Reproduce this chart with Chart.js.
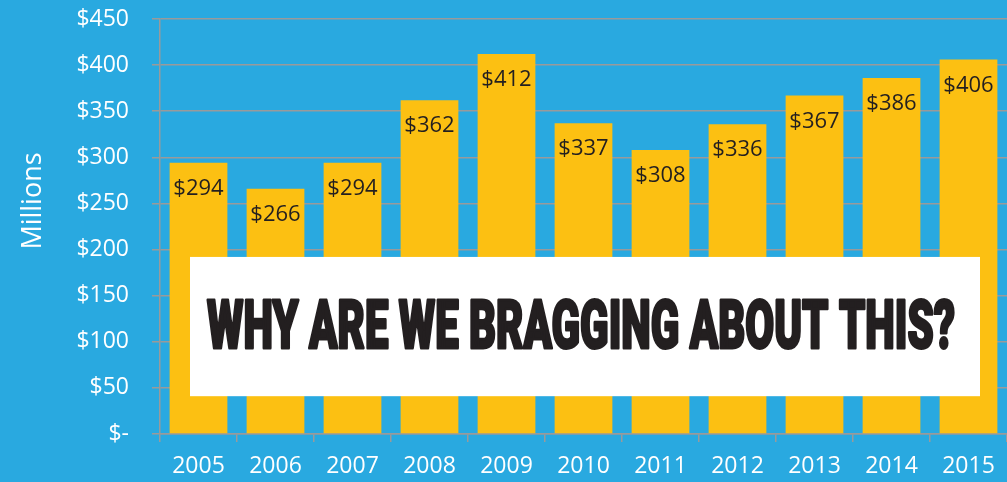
<!DOCTYPE html>
<html>
<head>
<meta charset="utf-8">
<script src="https://cdn.jsdelivr.net/npm/chart.js@4.4.0/dist/chart.umd.min.js"></script>
<style>
    html, body { margin: 0; padding: 0; background: #29a9e0; }
    #wrap { width: 1007px; height: 482px; position: relative; }
</style>
</head>
<body>
<div id="wrap"><canvas id="revenueChart" width="1007" height="482"></canvas></div>
<script>
// Values (millions of dollars)
const years = ['2005', '2006', '2007', '2008', '2009', '2010', '2011', '2012', '2013', '2014', '2015'];
const revenue = [294, 266, 294, 362, 412, 337, 308, 336, 367, 386, 406];
const yMax = 450;
const yStep = 50;
const axisTitle = 'Millions';
const banner = 'WHY ARE WE BRAGGING ABOUT THIS?';

const BLUE = '#29a9e0';
const GOLD = '#fcc012';
const GRID = '#9a9a9a';
const FONT = '"Open Sans", "DejaVu Sans", sans-serif';

// value labels inside the top of each bar
const barLabels = {
    id: 'barLabels',
    afterDatasetsDraw(chart) {
        const ctx = chart.ctx;
        const meta = chart.getDatasetMeta(0);
        ctx.save();
        ctx.fillStyle = '#231f20';
        ctx.font = '22px ' + FONT;
        ctx.textAlign = 'center';
        ctx.textBaseline = 'middle';
        meta.data.forEach((bar, i) => {
            ctx.fillText('$' + revenue[i], bar.x, bar.y + 26);
        });
        ctx.restore();
    }
};

// rotated axis title and the white banner on top
const overlay = {
    id: 'overlay',
    afterDraw(chart) {
        const ctx = chart.ctx;
        const area = chart.chartArea;
        const y = chart.scales.y;

        ctx.save();
        ctx.fillStyle = '#ffffff';
        ctx.font = '27px ' + FONT;
        ctx.textAlign = 'center';
        ctx.textBaseline = 'middle';
        ctx.translate(33, 201);
        ctx.rotate(-Math.PI / 2);
        ctx.fillText(axisTitle, 0, 0);
        ctx.restore();

        // banner box
        const left = area.left + 30;
        const right = area.right - 27;
        const top = y.getPixelForValue(192);
        const bottom = y.getPixelForValue(41);
        ctx.save();
        ctx.fillStyle = '#ffffff';
        ctx.fillRect(left, top, right - left, bottom - top);

        ctx.font = '900 66px Roboto, "DejaVu Sans", sans-serif';
        ctx.fillStyle = '#231f20';
        ctx.strokeStyle = '#231f20';
        ctx.lineWidth = 3;
        ctx.lineJoin = 'round';
        ctx.textBaseline = 'alphabetic';
        ctx.textAlign = 'left';
        const target = 748;
        const w = ctx.measureText(banner).width;
        ctx.translate(left + 17, top + 91);
        ctx.scale(target / w, 1);
        ctx.fillText(banner, 0, 0);
        ctx.strokeText(banner, 0, 0);
        ctx.restore();
    }
};

const chart = new Chart(document.getElementById('revenueChart'), {
    type: 'bar',
    data: {
        labels: years,
        datasets: [{
            data: revenue,
            backgroundColor: GOLD,
            borderWidth: 0,
            categoryPercentage: 1,
            barPercentage: 0.75
        }]
    },
    options: {
        responsive: false,
        animation: false,
        layout: { padding: { top: 19, right: 0, left: 0, bottom: 0 } },
        plugins: {
            legend: { display: false },
            tooltip: { enabled: false }
        },
        scales: {
            x: {
                offset: true,
                grid: {
                    offset: true,
                    drawOnChartArea: false,
                    drawTicks: true,
                    tickLength: 8,
                    color: GRID,
                    lineWidth: 1.5
                },
                border: { color: GRID, width: 1.5 },
                ticks: {
                    color: '#ffffff',
                    font: { size: 23, family: FONT },
                    padding: 11,
                    maxRotation: 0
                },
                afterFit(scale) {
                    scale.height = 48;
                    scale.paddingLeft = 0;
                    scale.paddingRight = 0;
                }
            },
            y: {
                min: 0,
                max: yMax,
                grid: {
                    color: GRID,
                    lineWidth: 1.5,
                    tickLength: 8
                },
                border: { color: GRID, width: 1.5 },
                ticks: {
                    stepSize: yStep,
                    color: '#ffffff',
                    font: { size: 23, family: FONT },
                    padding: 23,
                    callback: v => v === 0 ? '$-' : '$' + v
                },
                afterFit(scale) {
                    scale.width = 160;
                    scale.paddingTop = 0;
                    scale.paddingBottom = 0;
                }
            }
        }
    },
    plugins: [barLabels, overlay]
});
</script>
</body>
</html>
